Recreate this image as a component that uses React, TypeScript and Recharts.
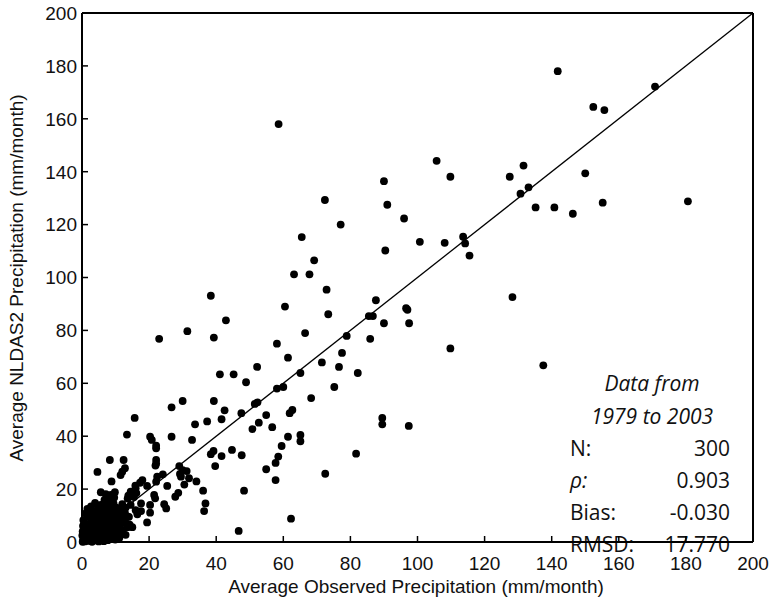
import React from 'react';
import { ScatterChart, Scatter, XAxis, YAxis, ReferenceLine, Customized } from 'recharts';

if (typeof document !== 'undefined') {
  document.body.style.margin = '0';
}

const xTicks = [0, 20, 40, 60, 80, 100, 120, 140, 160, 180, 200];
const yTicks = [0, 20, 40, 60, 80, 100, 120, 140, 160, 180, 200];
const oneToOne = [0, 200];

const xTitle = 'Average Observed Precipitation (mm/month)';
const yTitle = 'Average NLDAS2 Precipitation (mm/month)';
const periodLines = ['Data from', '1979 to 2003'];
const statNames = ['N:', 'ρ:', 'Bias:', 'RMSD:'];
const statValues = ['300', '0.903', '-0.030', '17.770'];

// [observed, NLDAS2]
const upperPoints: [number, number][] = [
  [141.8, 178.0], [170.8, 172.2], [152.4, 164.5], [155.7, 163.3], [105.7, 144.1], [131.6, 142.3],
  [90.0, 136.4], [109.8, 138.1], [127.5, 138.1], [150.0, 139.4], [133.1, 134.1], [130.7, 131.7],
  [91.0, 127.5], [135.2, 126.5], [140.8, 126.5], [146.3, 124.1], [155.2, 128.3], [180.6, 128.8],
  [96.0, 122.3], [100.7, 113.5], [108.1, 113.1], [113.6, 115.4], [114.2, 112.9], [115.5, 108.3],
  [90.4, 110.2], [87.6, 91.4], [86.7, 85.4], [85.5, 85.4], [96.6, 88.4], [97.0, 87.8],
  [90.0, 82.7], [97.5, 82.7], [85.9, 76.8], [128.3, 92.6], [109.8, 73.2], [137.5, 66.8],
];

const middlePoints: [number, number][] = [
  [72.4, 129.3], [77.1, 120.0], [65.5, 115.3], [69.2, 106.5], [63.2, 101.2], [67.8, 101.2],
  [72.9, 95.4], [60.5, 89.0], [42.9, 83.8], [73.4, 86.1], [66.5, 79.0], [78.9, 77.9],
  [58.1, 75.0], [61.4, 69.7], [77.5, 71.5], [52.2, 66.2], [71.5, 67.9], [76.6, 66.2],
  [82.2, 63.9], [41.1, 63.4], [45.2, 63.4], [48.9, 60.4], [65.1, 63.9], [58.1, 58.0],
  [60.0, 58.6], [75.2, 58.6], [68.3, 54.4], [51.5, 52.2], [52.3, 52.8], [42.5, 49.8],
  [41.6, 46.4], [47.5, 48.7], [54.9, 48.0], [61.9, 48.7], [62.7, 49.9], [52.7, 45.1],
  [50.8, 42.7], [56.7, 43.4], [89.5, 46.9], [89.5, 44.5], [97.4, 43.9], [65.1, 40.5],
  [65.1, 38.1], [61.4, 39.8], [59.5, 36.3], [44.7, 34.8],
  [58.6, 158.0], [38.4, 93.1], [31.4, 79.7], [23.0, 76.8], [39.3, 77.3],
  [72.5, 25.8], [81.7, 33.4], [62.3, 8.8],
];

const lowerPoints: [number, number][] = [
  [30.0, 53.3], [26.7, 50.9], [39.3, 53.3], [15.7, 46.9], [33.7, 44.5], [37.3, 45.6],
  [13.4, 40.6], [20.3, 39.8], [20.8, 38.6], [26.7, 39.8], [32.8, 38.6], [22.1, 36.4],
  [22.1, 35.4], [38.4, 33.2], [39.2, 34.4], [41.6, 32.5], [47.6, 32.8], [39.7, 28.7],
  [54.9, 27.5], [57.7, 29.9], [57.7, 23.4], [58.5, 32.3], [48.3, 19.4], [46.7, 4.2],
  [22.1, 31.0], [22.1, 29.7], [21.9, 28.9], [8.3, 31.0], [4.6, 26.5], [12.4, 31.0],
  [12.8, 27.9], [12.0, 26.6], [11.5, 25.3], [8.8, 22.9], [15.9, 21.3], [17.3, 22.4],
  [18.0, 23.4], [22.4, 24.7], [22.1, 22.8], [24.1, 25.6], [19.4, 21.2], [25.4, 21.2],
  [29.0, 28.7], [30.0, 27.2], [29.2, 25.7], [31.2, 26.8], [29.5, 24.7], [31.9, 24.1],
  [30.5, 21.7], [34.1, 22.9], [27.8, 17.1], [28.7, 18.6], [24.5, 14.3], [25.1, 12.7],
  [36.1, 19.4], [36.8, 14.6], [36.4, 11.7], [21.5, 17.8], [21.8, 16.5], [17.6, 14.6],
  [20.3, 14.0], [20.3, 11.1], [17.6, 11.7], [19.4, 7.4], [13.6, 16.4], [9.8, 18.8],
  [8.6, 17.8], [9.1, 16.3], [5.6, 18.8], [7.1, 18.1], [7.4, 16.5], [16.0, 20.3],
  [14.5, 19.0], [13.8, 17.5], [15.5, 17.0], [16.2, 18.5], [13.0, 13.0], [14.5, 14.0],
  [12.5, 12.5], [16.0, 12.0], [16.5, 10.5], [14.0, 9.5], [12.0, 10.0], [13.6, 5.6],
  [15.0, 5.6],
];

const originCluster: [number, number][] = [
  [0.3, 0.5], [0.5, 1.2], [0.8, 0.2], [1.0, 2.0], [1.2, 0.8], [1.5, 3.1], [0.2, 4.0], [0.6, 5.5], [1.8, 1.5], [2.0, 0.4],
  [2.2, 2.8], [2.5, 4.6], [2.8, 1.1], [3.0, 6.2], [3.1, 3.5], [3.4, 0.9], [3.6, 8.0], [3.8, 5.1], [4.0, 2.3], [4.2, 10.5],
  [4.4, 6.8], [4.5, 0.6], [4.7, 12.1], [4.9, 3.9], [5.1, 8.9], [5.3, 1.7], [5.5, 5.9], [5.6, 14.0], [5.8, 10.2], [6.0, 3.0],
  [6.1, 7.4], [6.3, 12.6], [6.5, 0.3], [6.6, 9.5], [6.8, 4.8], [7.0, 11.3], [7.1, 2.1], [7.3, 6.5], [7.5, 15.2], [7.6, 8.3],
  [7.8, 13.4], [8.0, 3.6], [8.1, 10.8], [8.3, 1.2], [8.5, 7.0], [8.7, 12.2], [8.9, 5.3], [9.0, 9.4], [9.2, 2.6], [9.4, 14.6],
  [9.5, 11.0], [9.7, 6.1], [9.9, 0.9], [10.0, 8.7], [10.2, 13.0], [10.4, 4.4], [10.6, 10.1], [10.8, 2.0], [11.0, 7.6], [11.2, 12.0],
  [11.4, 5.0], [11.6, 9.0], [11.8, 3.2], [12.0, 14.3], [1.3, 6.8], [0.4, 8.3], [1.7, 9.6], [2.4, 11.2], [0.9, 3.3], [1.1, 10.8],
  [2.7, 13.5], [3.3, 11.8], [3.9, 14.8], [0.1, 2.5], [0.7, 7.2], [2.1, 5.9], [2.9, 9.0], [3.5, 2.0], [4.3, 4.7], [5.0, 0.2],
  [5.4, 11.6], [6.2, 5.7], [6.9, 13.9], [7.7, 0.7], [8.4, 9.0], [9.1, 4.0], [9.8, 12.3], [10.5, 6.9], [11.1, 1.5], [11.7, 10.6],
  [0.2, 0.1], [0.6, 1.8], [1.4, 0.6], [1.9, 4.1], [2.3, 1.7], [2.6, 7.1], [3.2, 4.4], [3.7, 1.3], [4.1, 8.7], [4.6, 2.9],
  [5.2, 6.4], [5.7, 2.4], [6.4, 8.1], [7.2, 4.1], [7.9, 6.0], [8.6, 3.1], [9.3, 7.5], [10.1, 5.3], [10.9, 9.5], [11.5, 7.3],
  [12.5, 8.4], [12.8, 11.0], [13.2, 7.0], [13.5, 9.7], [12.2, 4.6], [13.0, 2.7], [14.2, 6.6], [0.3, 6.1], [1.6, 12.5], [2.0, 9.9],
  [3.0, 0.1], [4.8, 13.2], [6.7, 15.9], [8.2, 15.6], [9.6, 16.8],
];

const points = [...upperPoints, ...middlePoints, ...lowerPoints, ...originCluster].map(([x, y]) => ({ x, y }));

const W = 774;
const H = 604;
const AXIS_FONT = '"Liberation Sans", Arial, sans-serif';
const NOTE_FONT = '"Open Sans", Lato, sans-serif';
const AXIS_SIZE = 19;
const NOTE_SIZE = 21;
const TICK_LEN = 6;

const BottomTick = (props: any) => {
  const { x, y, payload } = props;
  const v = payload.value;
  return (
    <g>
      {v > 0 && v < 200 && <line x1={x} y1={y} x2={x} y2={y - TICK_LEN} stroke="#000" strokeWidth={1.5} />}
      <text x={x} y={y + 28} textAnchor="middle" fontSize={AXIS_SIZE} fontFamily={AXIS_FONT} fill="#111">{v}</text>
    </g>
  );
};

const LeftTick = (props: any) => {
  const { x, y, payload } = props;
  const v = payload.value;
  return (
    <g>
      {v > 0 && v < 200 && <line x1={x} y1={y} x2={x + TICK_LEN} y2={y} stroke="#000" strokeWidth={1.5} />}
      <text x={x - 5} y={y} dy="0.36em" textAnchor="end" fontSize={AXIS_SIZE} fontFamily={AXIS_FONT} fill="#111">{v}</text>
    </g>
  );
};

const TopTick = (props: any) => {
  const { x, y, payload } = props;
  const v = payload.value;
  if (!(v > 0 && v < 200)) return <g />;
  return <line x1={x} y1={y} x2={x} y2={y + TICK_LEN} stroke="#000" strokeWidth={1.5} />;
};

const RightTick = (props: any) => {
  const { x, y, payload } = props;
  const v = payload.value;
  if (!(v > 0 && v < 200)) return <g />;
  return <line x1={x} y1={y} x2={x - TICK_LEN} y2={y} stroke="#000" strokeWidth={1.5} />;
};

const Dot = (props: any) => <circle cx={props.cx} cy={props.cy} r={3.9} fill="#000" />;

const Annotations = () => (
  <g>
    <text x={416} y={593} textAnchor="middle" fontSize={AXIS_SIZE} fontFamily={AXIS_FONT} fill="#111">{xTitle}</text>
    <text x={23} y={278} transform="rotate(-90, 23, 278)" textAnchor="middle" fontSize={AXIS_SIZE} fontFamily={AXIS_FONT} fill="#111">{yTitle}</text>
    {periodLines.map((t, i) => (
      <text key={t} x={652} y={391 + i * 33} textAnchor="middle" fontSize={NOTE_SIZE} fontStyle="italic" fontFamily={NOTE_FONT} fill="#111">{t}</text>
    ))}
    {statNames.map((t, i) => (
      <text key={t} x={570} y={456 + i * 32} textAnchor="start" fontSize={NOTE_SIZE} fontStyle={i === 1 ? 'italic' : 'normal'} fontFamily={NOTE_FONT} fill="#111">{t}</text>
    ))}
    {statValues.map((t, i) => (
      <text key={t} x={730} y={456 + i * 32} textAnchor="end" fontSize={NOTE_SIZE} fontFamily={NOTE_FONT} fill="#111">{t}</text>
    ))}
  </g>
);

export default function App() {
  return (
    <div style={{ width: W, height: H, background: '#fff' }}>
      <ScatterChart width={W} height={H} margin={{ top: 12, right: 20, bottom: 22, left: 22 }}>
        <XAxis
          xAxisId="bottom"
          dataKey="x"
          type="number"
          domain={[0, 200]}
          ticks={xTicks}
          orientation="bottom"
          height={40}
          tickSize={0}
          tickMargin={0}
          tickLine={false}
          tick={BottomTick}
          axisLine={{ stroke: '#000', strokeWidth: 2 }}
          interval={0}
        />
        <XAxis
          xAxisId="top"
          type="number"
          domain={[0, 200]}
          ticks={xTicks}
          orientation="top"
          height={1}
          tickSize={0}
          tickMargin={0}
          tickLine={false}
          tick={TopTick}
          axisLine={{ stroke: '#000', strokeWidth: 2 }}
          interval={0}
        />
        <YAxis
          yAxisId="left"
          dataKey="y"
          type="number"
          domain={[0, 200]}
          ticks={yTicks}
          orientation="left"
          width={60}
          tickSize={0}
          tickMargin={0}
          tickLine={false}
          tick={LeftTick}
          axisLine={{ stroke: '#000', strokeWidth: 2 }}
          interval={0}
        />
        <YAxis
          yAxisId="right"
          type="number"
          domain={[0, 200]}
          ticks={yTicks}
          orientation="right"
          width={1}
          tickSize={0}
          tickMargin={0}
          tickLine={false}
          tick={RightTick}
          axisLine={{ stroke: '#000', strokeWidth: 2 }}
          interval={0}
        />
        <ReferenceLine
          xAxisId="bottom"
          yAxisId="left"
          segment={[{ x: oneToOne[0], y: oneToOne[0] }, { x: oneToOne[1], y: oneToOne[1] }]}
          stroke="#000"
          strokeWidth={1.3}
          ifOverflow="visible"
        />
        <Scatter xAxisId="bottom" yAxisId="left" data={points} shape={Dot} isAnimationActive={false} />
        <Customized component={Annotations} />
      </ScatterChart>
    </div>
  );
}
